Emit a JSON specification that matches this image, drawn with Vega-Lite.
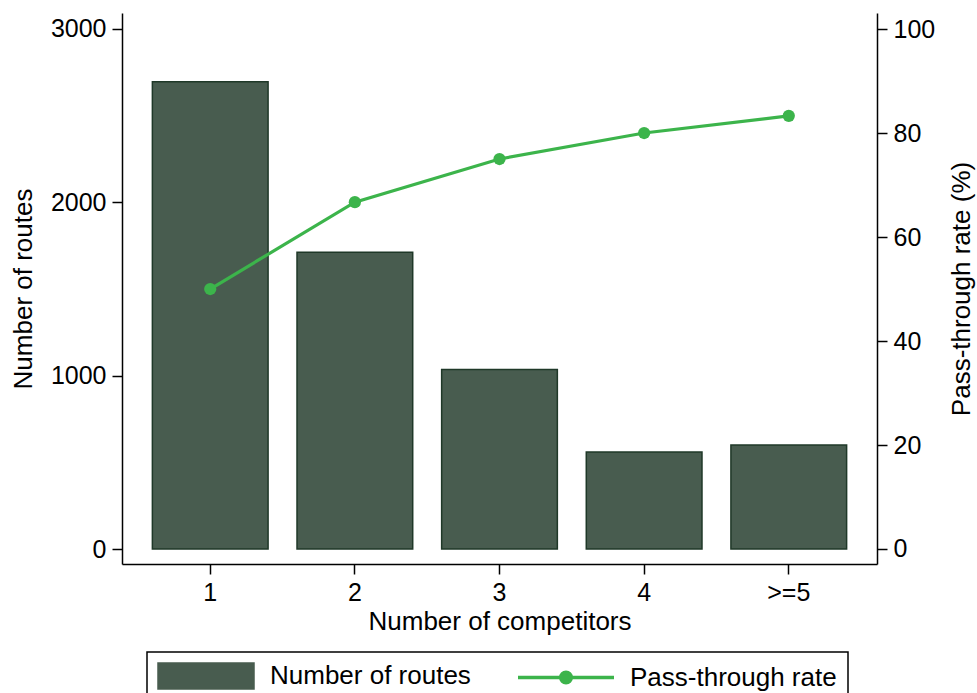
{
  "$schema": "https://vega.github.io/schema/vega-lite/v6.json",
  "width": 755,
  "height": 551,
  "autosize": {"type": "none"},
  "padding": {"left": 122, "top": 13, "right": 100, "bottom": 129},
  "background": "white",
  "config": {
    "view": {"stroke": null},
    "font": "Liberation Sans",
    "axis": {
      "grid": false,
      "domainColor": "black",
      "tickColor": "black",
      "labelColor": "black",
      "titleColor": "black",
      "labelFont": "Liberation Sans",
      "titleFont": "Liberation Sans",
      "labelFontSize": 25,
      "titleFontSize": 26,
      "titleFontWeight": "normal",
      "tickSize": 10,
      "domainWidth": 1.5,
      "tickWidth": 1.5
    }
  },
  "data": {
    "values": [
      {"comp": "1", "series": "Number of routes", "value": 2695},
      {"comp": "2", "series": "Number of routes", "value": 1712},
      {"comp": "3", "series": "Number of routes", "value": 1036},
      {"comp": "4", "series": "Number of routes", "value": 560},
      {"comp": ">=5", "series": "Number of routes", "value": 600},
      {"comp": "1", "series": "Pass-through rate", "value": 50},
      {"comp": "2", "series": "Pass-through rate", "value": 66.7},
      {"comp": "3", "series": "Pass-through rate", "value": 75},
      {"comp": "4", "series": "Pass-through rate", "value": 80},
      {"comp": ">=5", "series": "Pass-through rate", "value": 83.3}
    ]
  },
  "encoding": {
    "x": {
      "field": "comp",
      "type": "nominal",
      "sort": ["1", "2", "3", "4", ">=5"],
      "scale": {"paddingInner": 0.2, "paddingOuter": 0.21},
      "axis": {"title": "Number of competitors", "labelAngle": 0, "labelPadding": 6, "titlePadding": 3}
    },
    "color": {
      "field": "series",
      "type": "nominal",
      "scale": {"domain": ["Number of routes", "Pass-through rate"], "range": ["#485c4f", "#3cb44b"]},
      "legend": {
        "title": null,
        "orient": "none",
        "legendX": 25,
        "legendY": 639,
        "direction": "horizontal",
        "columns": 2,
        "columnPadding": 40,
        "padding": 11,
        "strokeColor": "black",
        "fillColor": "white",
        "symbolSize": 9216,
        "symbolType": "M-1,-0.27H1V0.27H-1Z",
        "labelFont": "Liberation Sans",
        "labelFontSize": 26,
        "labelColor": "black",
        "labelOffset": 16,
        "labelLimit": 400,
        "encode": {
          "legend": {"update": {"strokeWidth": {"value": 1.5}}},
          "symbols": {
            "update": {
              "x": {"value": 48},
              "shape": {"signal": "datum.value === 'Number of routes' ? 'M-1,-0.27H1V0.27H-1Z' : 'M-1,0H1M0.11,0A0.11,0.11 0 1,1 -0.11,0A0.11,0.11 0 1,1 0.11,0'"},
              "fill": {"signal": "datum.value === 'Number of routes' ? '#485c4f' : '#3cb44b'"},
              "stroke": {"signal": "datum.value === 'Number of routes' ? '#1f3828' : '#3cb44b'"},
              "strokeWidth": {"signal": "datum.value === 'Number of routes' ? 1.5 : 3.5"},
              "opacity": {"value": 1},
              "fillOpacity": {"value": 1}
            }
          },
          "labels": {
            "update": {
              "x": {"value": 112}
            }
          }
        }
      }
    }
  },
  "layer": [
    {
      "transform": [{"filter": "datum.series === 'Number of routes'"}],
      "mark": {"type": "bar", "stroke": "#1f3828", "strokeWidth": 1.5, "fillOpacity": 1},
      "encoding": {
        "y": {
          "field": "value",
          "type": "quantitative",
          "scale": {"domain": [-86.5, 3092], "nice": false, "zero": false},
          "axis": {"title": "Number of routes", "values": [0, 1000, 2000, 3000], "format": "d", "labelPadding": 6, "titlePadding": 14, "orient": "left"}
        }
      }
    },
    {
      "transform": [{"filter": "datum.series === 'Pass-through rate'"}],
      "mark": {"type": "line", "strokeWidth": 3.2, "point": {"filled": true, "size": 150, "opacity": 1}},
      "encoding": {
        "y": {
          "field": "value",
          "type": "quantitative",
          "scale": {"domain": [-2.885, 103.08], "nice": false, "zero": false},
          "axis": {"title": "Pass-through rate (%)", "values": [0, 20, 40, 60, 80, 100], "orient": "right", "labelPadding": 6, "titlePadding": 40, "titleAngle": 270, "titleBaseline": "bottom"}
        }
      }
    }
  ],
  "resolve": {"scale": {"y": "independent"}}
}
